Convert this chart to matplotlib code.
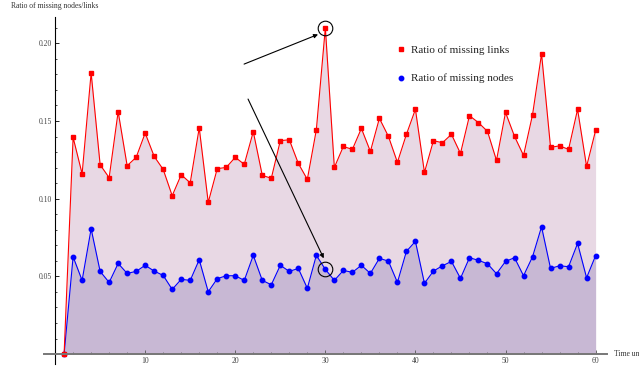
import numpy as np
import matplotlib
matplotlib.use("Agg")
import matplotlib.pyplot as plt
from matplotlib.ticker import MultipleLocator

# Time steps and ratios
t = np.arange(1, 61)
links = [0.0, 0.1394, 0.1160, 0.1810, 0.1218, 0.1135, 0.1560, 0.1212, 0.1266, 0.1422,
         0.1272, 0.1188, 0.1019, 0.1154, 0.1102, 0.1456, 0.0976, 0.1193, 0.1201, 0.1266,
         0.1221, 0.1431, 0.1150, 0.1131, 0.1373, 0.1379, 0.1227, 0.1124, 0.1443, 0.2100,
         0.1201, 0.1336, 0.1317, 0.1452, 0.1304, 0.1517, 0.1401, 0.1234, 0.1414, 0.1575,
         0.1169, 0.1373, 0.1360, 0.1414, 0.1291, 0.1534, 0.1489, 0.1433, 0.1246, 0.1555,
         0.1401, 0.1278, 0.1540, 0.1932, 0.1330, 0.1340, 0.1317, 0.1575, 0.1207, 0.1439]
nodes = [0.0, 0.0626, 0.0474, 0.0806, 0.0532, 0.0461, 0.0583, 0.0519, 0.0532, 0.0571,
         0.0534, 0.0506, 0.0416, 0.0481, 0.0474, 0.0607, 0.0401, 0.0485, 0.0504, 0.0504,
         0.0474, 0.0635, 0.0474, 0.0446, 0.0571, 0.0532, 0.0551, 0.0423, 0.0635, 0.0545,
         0.0474, 0.0538, 0.0526, 0.0571, 0.0519, 0.0616, 0.0598, 0.0461, 0.0661, 0.0725,
         0.0455, 0.0534, 0.0568, 0.0596, 0.0487, 0.0620, 0.0603, 0.0581, 0.0517, 0.0596,
         0.0620, 0.0504, 0.0626, 0.0819, 0.0551, 0.0568, 0.0562, 0.0712, 0.0491, 0.0633]

links = np.array(links)
nodes = np.array(nodes)

plt.rcParams["font.family"] = "Liberation Serif"

fig = plt.figure(figsize=(6.39, 3.68), dpi=100)
ax = fig.add_axes([0.0693, 0.0109, 0.8811, 0.9437])

ax.fill_between(t, 0, links, color="#e8d8e4", lw=0)
ax.fill_between(t, 0, nodes, color="#c8b8d4", lw=0)
ax.plot(t, nodes, "-o", color="blue", lw=0.8, ms=3.2, label="Ratio of missing nodes")
ax.plot(t, links, "-s", color="red", lw=0.8, ms=2.9, label="Ratio of missing links")

ax.set_xlim(-1.2, 61.3)
ax.set_ylim(-0.0064, 0.2171)

# Mathematica-like axes crossing at the origin
for s in ["top", "right"]:
    ax.spines[s].set_visible(False)
ax.spines["left"].set_position(("data", 0))
ax.spines["bottom"].set_position(("data", 0))
ax.spines["left"].set_linewidth(0.8)
ax.spines["bottom"].set_linewidth(1.4)
ax.spines["bottom"].set_color("#777777")

ax.xaxis.set_minor_locator(MultipleLocator(2))
ax.yaxis.set_minor_locator(MultipleLocator(0.01))
ax.set_xticks([10, 20, 30, 40, 50, 60])
ax.set_yticks([0.05, 0.10, 0.15, 0.20])
ax.set_yticklabels(["0.05", "0.10", "0.15", "0.20"])
ax.tick_params(which="major", direction="in", length=2.8, width=0.6,
               labelsize=5.5, labelcolor="#444444", pad=2)
ax.tick_params(which="minor", direction="in", length=1.6, width=0.5)
ax.tick_params(axis="x", which="both", color="#555555")

fig.text(11 / 639, 1 - 5.7 / 368, "Ratio of missing nodes/links", fontsize=5.5,
         color="#333333", va="center", ha="left")
ax.annotate("Time units", xy=(1.0, 0), xycoords=("axes fraction", "data"),
            xytext=(5, 0), textcoords="offset points", fontsize=5.5,
            color="#333333", va="center", ha="left", annotation_clip=False)

# circles and arrows pointing at the step-30 values
ax.plot([30], [links[29]], "o", ms=10.5, mfc="none", mec="black", mew=0.8)
ax.plot([30], [nodes[29]], "o", ms=10.5, mfc="none", mec="black", mew=0.8)
ax.annotate("", xy=(29.19, 0.2057), xytext=(20.98, 0.1866),
            arrowprops=dict(arrowstyle="-|>", color="black", lw=0.8,
                            mutation_scale=6, shrinkA=0, shrinkB=0))
ax.annotate("", xy=(29.82, 0.0616), xytext=(21.42, 0.1641),
            arrowprops=dict(arrowstyle="-|>", color="black", lw=0.8,
                            mutation_scale=6, shrinkA=0, shrinkB=0))

h, l = ax.get_legend_handles_labels()
ax.legend(h[::-1], l[::-1], loc="upper left", bbox_to_anchor=(0.623, 0.9185),
          frameon=False, fontsize=8, borderpad=0, borderaxespad=0,
          handlelength=1.0, handletextpad=0.4, labelspacing=1.7,
          labelcolor="#222222")
for lh in ax.get_legend().legend_handles:
    lh.set_linestyle("none")

fig.savefig("out.png", dpi=100)
